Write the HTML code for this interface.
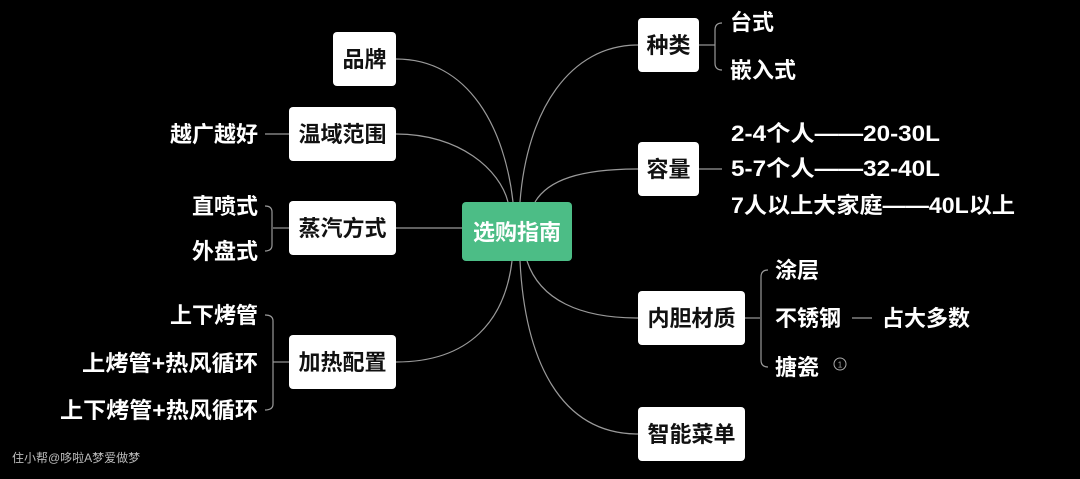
<!DOCTYPE html>
<html><head><meta charset="utf-8"><style>
html,body{margin:0;padding:0;background:#000;}
svg{display:block;}
text{font-family:"Liberation Sans","Noto Sans CJK SC",sans-serif;font-weight:bold;}
</style></head><body>
<svg width="1080" height="479" viewBox="0 0 1080 479" xmlns="http://www.w3.org/2000/svg">
<rect width="1080" height="479" fill="#000"/>
<g fill="none" stroke="#9a9a9a" stroke-width="1.2">
<path d="M396,59 C470,59 505,130 513,202"/>
<path d="M396,134 C460,134 500,170 508,202"/>
<path d="M396,228 L462,228"/>
<path d="M396,362 C470,362 505,320 512,261"/>
<path d="M638,45 C570,45 527,110 520,202"/>
<path d="M638,169 C580,169 548,180 535,202"/>
<path d="M638,318 C580,318 540,300 527,261"/>
<path d="M638,434 C560,434 525,360 520,261"/>
<path d="M699,45 L715,45"/>
<path d="M722,23 Q715,23 715,30 L715,63 Q715,70 722,70"/>
<path d="M699,169 L722,169"/>
<path d="M745,318 L760,318"/>
<path d="M768,270 Q761,270 761,277 L761,360 Q761,367 768,367"/>
<path d="M852,318 L872,318"/>
<path d="M265,134 L289,134"/>
<path d="M273,228 L289,228"/>
<path d="M265,206 Q272,206 272,212 L272,245 Q272,251 265,251"/>
<path d="M273,362 L289,362"/>
<path d="M265,315 Q273,315 273,321 L273,404 Q273,410 265,410"/>
</g>
<circle cx="840" cy="364" r="6" fill="none" stroke="#aaa" stroke-width="1"/>
<text x="840" y="367.5" font-size="8" fill="#aaa" text-anchor="middle" style="font-weight:normal">1</text>
<rect x="462" y="202" width="110" height="59" rx="4" fill="#4cbd86"/>
<text x="517" y="240" font-size="22" fill="#fff" text-anchor="middle">选购指南</text>
<g fill="#fff">
<rect x="333" y="32" width="63" height="54" rx="4"/>
<rect x="289" y="107" width="107" height="54" rx="4"/>
<rect x="289" y="201" width="107" height="54" rx="4"/>
<rect x="289" y="335" width="107" height="54" rx="4"/>
<rect x="638" y="18" width="61" height="54" rx="4"/>
<rect x="638" y="142" width="61" height="54" rx="4"/>
<rect x="638" y="291" width="107" height="54" rx="4"/>
<rect x="638" y="407" width="107" height="54" rx="4"/>
</g>
<g fill="#111" font-size="22" text-anchor="middle">
<text x="364.5" y="67">品牌</text>
<text x="342.5" y="142">温域范围</text>
<text x="342.5" y="236">蒸汽方式</text>
<text x="342.5" y="370">加热配置</text>
<text x="668.5" y="53">种类</text>
<text x="668.5" y="177">容量</text>
<text x="691.5" y="326">内胆材质</text>
<text x="691.5" y="442">智能菜单</text>
</g>
<g fill="#fff" font-size="22">
<text x="730" y="30">台式</text>
<text x="730" y="78">嵌入式</text>
<text x="731" y="141" textLength="209" lengthAdjust="spacingAndGlyphs">2-4个人——20-30L</text>
<text x="731" y="176" textLength="209" lengthAdjust="spacingAndGlyphs">5-7个人——32-40L</text>
<text x="731" y="213" textLength="284" lengthAdjust="spacingAndGlyphs">7人以上大家庭——40L以上</text>
<text x="775" y="278">涂层</text>
<text x="775" y="326">不锈钢</text>
<text x="775" y="375">搪瓷</text>
<text x="882" y="326">占大多数</text>
</g>
<g fill="#fff" font-size="22" text-anchor="end">
<text x="258" y="142">越广越好</text>
<text x="258" y="214">直喷式</text>
<text x="258" y="259">外盘式</text>
<text x="258" y="323">上下烤管</text>
<text x="258" y="371" textLength="176" lengthAdjust="spacingAndGlyphs">上烤管+热风循环</text>
<text x="258" y="418" textLength="198" lengthAdjust="spacingAndGlyphs">上下烤管+热风循环</text>
</g>
<text x="12" y="462" font-size="12" fill="#bbb" style="font-weight:normal">住小帮@哆啦A梦爱做梦</text>
</svg>
</body></html>
